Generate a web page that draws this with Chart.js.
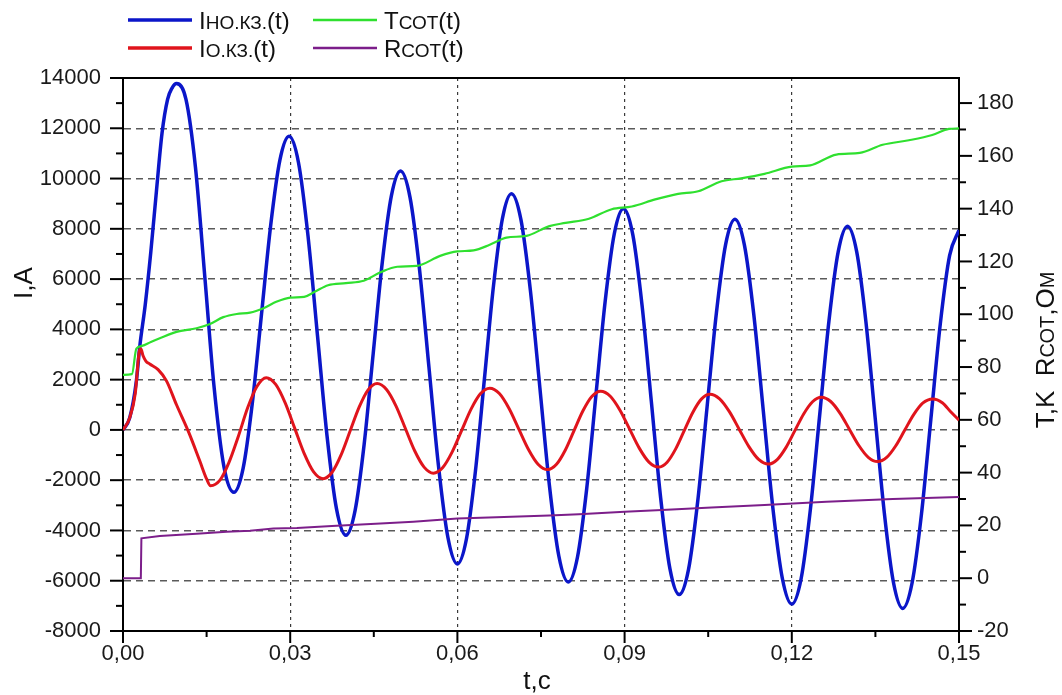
<!DOCTYPE html>
<html>
<head>
<meta charset="utf-8">
<title>Токи КЗ и параметры СОТ</title>
<script src="https://cdn.jsdelivr.net/npm/chart.js@4.4.1/dist/chart.umd.min.js"></script>
<style>
  html, body { margin: 0; padding: 0; background: #fff; }
  #wrap { width: 1062px; height: 695px; }
</style>
</head>
<body>
<div id="wrap"><canvas id="chart" width="1062" height="695"></canvas></div>
<script>
// --- data ---

// unlimited short-circuit current, A
const tNo = [0, 0.0012, 0.0024, 0.0030, 0.0040, 0.0050, 0.0060, 0.0070, 0.0080, 0.0088, 0.0096,
  0.0113, 0.0130, 0.01475, 0.0163, 0.0181, 0.0199,
  0.02155, 0.0232, 0.02485, 0.0265, 0.02815, 0.0298,
  0.0315, 0.0332, 0.0349, 0.0366, 0.0383, 0.0400,
  0.04163, 0.04327, 0.0449, 0.04653, 0.04817, 0.0498,
  0.0515, 0.0532, 0.0549, 0.0566, 0.0583, 0.0600,
  0.06162, 0.06323, 0.06485, 0.06647, 0.06808, 0.0697,
  0.0714, 0.0731, 0.0748, 0.0765, 0.0782, 0.0799,
  0.08155, 0.0832, 0.08485, 0.0865, 0.08815, 0.0898,
  0.09147, 0.09313, 0.0948, 0.09647, 0.09813, 0.0998,
  0.10147, 0.10313, 0.1048, 0.10647, 0.10813, 0.1098,
  0.1115, 0.1132, 0.1149, 0.1166, 0.1183, 0.1200,
  0.12167, 0.12333, 0.1250, 0.12667, 0.12833, 0.1300,
  0.13165, 0.1333, 0.13495, 0.1366, 0.13825, 0.1399,
  0.14158, 0.14327, 0.14495, 0.14663, 0.14832, 0.1500];
const iNo = [0, 480, 1950, 3300, 5000, 7100, 9500, 11800, 13150, 13600, 13780,
  13150, 10450, 5900, 1800, -1450, -2480,
  -1530, 1060, 4600, 8140, 10730, 11680,
  10620, 7710, 3745, -220, -3130, -4190,
  -3220, -570, 3055, 6680, 9330, 10300,
  9250, 6390, 2485, -1420, -4280, -5330,
  -4340, -1650, 2035, 5720, 8410, 9400,
  8365, 5540, 1675, -2190, -5015, -6050,
  -5055, -2340, 1375, 5090, 7805, 8800,
  7770, 4960, 1125, -2710, -5520, -6550,
  -5550, -2820, 915, 4650, 7380, 8380,
  7350, 4550, 725, -3100, -5900, -6930,
  -5920, -3170, 585, 4340, 7090, 8100,
  7080, 4300, 500, -3300, -6080, -7100,
  -6090, -3340, 425, 4190, 6940, 7950];

// limited short-circuit current, A
const tO = [0, 0.0012, 0.0022, 0.0029, 0.0032, 0.0036, 0.0041, 0.0048, 0.0063, 0.0078,
  0.0096, 0.0118, 0.0138, 0.0150, 0.0157,
  0.0174, 0.0190, 0.0207, 0.0224, 0.0240, 0.0257,
  0.0274, 0.0291, 0.0308, 0.0325, 0.0342, 0.0359,
  0.03752, 0.03913, 0.04075, 0.04237, 0.04398, 0.0456,
  0.04728, 0.04897, 0.05065, 0.05233, 0.05402, 0.0557,
  0.05738, 0.05907, 0.06075, 0.06243, 0.06412, 0.0658,
  0.06753, 0.06927, 0.0710, 0.07273, 0.07447, 0.0762,
  0.07778, 0.07937, 0.08095, 0.08253, 0.08412, 0.0857,
  0.08743, 0.08917, 0.0909, 0.09263, 0.09437, 0.0961,
  0.09763, 0.09917, 0.1007, 0.10223, 0.10377, 0.1053,
  0.10705, 0.1088, 0.11055, 0.1123, 0.11405, 0.1158,
  0.11738, 0.11897, 0.12055, 0.12213, 0.12372, 0.1253,
  0.12698, 0.12867, 0.13035, 0.13203, 0.13372, 0.1354,
  0.13702, 0.13863, 0.14025, 0.14187, 0.14348, 0.1453,
  0.1470, 0.1486, 0.1500];
const iO = [0, 480, 1450, 3100, 3230, 2950, 2740, 2620, 2400, 1950,
  1000, -100, -1250, -1950, -2220,
  -2000, -1300, -250, 900, 1720, 2080,
  1810, 1075, 70, -935, -1670, -1940,
  -1685, -995, -45, 905, 1595, 1850,
  1610, 960, 65, -830, -1480, -1720,
  -1495, -875, -30, 815, 1435, 1660,
  1445, 850, 40, -770, -1365, -1580,
  -1370, -800, -20, 760, 1330, 1540,
  1340, 785, 30, -725, -1280, -1480,
  -1285, -755, -30, 695, 1225, 1420,
  1235, 725, 30, -665, -1175, -1360,
  -1180, -695, -30, 635, 1120, 1300,
  1130, 660, 20, -620, -1090, -1260,
  -1095, -640, -15, 610, 1065, 1230,
  1080, 700, 390];

// limiter temperature, K
const tTemp = [0, 0.0016, 0.0024, 0.0034, 0.0050, 0.0066, 0.0096, 0.0132, 0.0156, 0.0180,
  0.0204, 0.0228, 0.0252, 0.0276, 0.0300, 0.0325, 0.0344, 0.0368, 0.0400, 0.0432,
  0.0462, 0.0492, 0.0527, 0.0569, 0.0600, 0.0629, 0.0658, 0.0688, 0.0724, 0.0765,
  0.0794, 0.0836, 0.0877, 0.0913, 0.0955, 0.0996, 0.1032, 0.1074, 0.1109, 0.1151,
  0.1200, 0.1233, 0.1280, 0.1322, 0.1363, 0.1410, 0.1452, 0.1482, 0.1500];
const tempSot = [77, 77.3, 87, 88, 89.5, 90.9, 93.3, 94.7, 96.3, 98.9,
  100.1, 100.6, 102.3, 104.8, 106.3, 106.6, 108.5, 111, 111.8, 112.7,
  115.9, 118.0, 118.3, 122.1, 123.8, 124.2, 126.3, 129.0, 129.7, 133.4,
  134.6, 136.2, 139.8, 140.8, 143.5, 145.6, 146.6, 150.4, 151.5, 153.2,
  155.9, 156.4, 160.5, 161.1, 164.2, 165.9, 167.9, 170.2, 170.4];

// limiter resistance, Ohm
const tRes = [0, 0.0032, 0.0033, 0.0066, 0.0132, 0.0186, 0.0228, 0.0270, 0.0312, 0.0375,
  0.0462, 0.0521, 0.0600, 0.0670, 0.0765, 0.0818, 0.0900, 0.0967, 0.1056, 0.1151,
  0.1262, 0.1381, 0.1500];
const rSot = [0, 0, 15.1, 16.0, 16.8, 17.6, 18.0, 18.8, 19.0, 19.8,
  20.7, 21.4, 22.6, 23.1, 23.8, 24.2, 25.2, 25.8, 26.8, 27.7,
  29.0, 30.0, 30.8];

// axis ticks
const xTicks = [0, 0.03, 0.06, 0.09, 0.12, 0.15];
const iTicksStep = 2000;
const rightTicks = [-20, 0, 20, 40, 60, 80, 100, 120, 140, 160, 180];

const FONT = "'Liberation Sans', Arial, sans-serif";

function zip(xs, ys) {
  return xs.map((x, i) => ({ x: x, y: ys[i] }));
}

// text with mixed sizes (small caps subscripts like НО.КЗ.)
function richWidth(ctx, parts) {
  let w = 0;
  parts.forEach(p => {
    ctx.font = p[1] + 'px ' + FONT;
    w += ctx.measureText(p[0]).width;
  });
  return w;
}
function drawRich(ctx, parts, x, y) {
  let cx = x;
  parts.forEach(p => {
    ctx.font = p[1] + 'px ' + FONT;
    ctx.fillText(p[0], cx, y);
    cx += ctx.measureText(p[0]).width;
  });
}

const legendItems = [
  { color: '#0b16c9', width: 3.5, x: 128, y: 20, parts: [['I', 24], ['НО.КЗ.', 19], ['(t)', 24]] },
  { color: '#2fe02f', width: 2.5, x: 313, y: 20, parts: [['T', 24], ['СОТ', 19], ['(t)', 24]] },
  { color: '#e0141c', width: 3.5, x: 128, y: 48, parts: [['I', 24], ['О.КЗ.', 19], ['(t)', 24]] },
  { color: '#7c1e8a', width: 2.5, x: 313, y: 48, parts: [['R', 24], ['СОТ', 19], ['(t)', 24]] }
];

const decorations = {
  id: 'decorations',
  afterDraw(chart) {
    const { ctx, chartArea: a, scales } = chart;
    ctx.save();
    ctx.strokeStyle = '#000';
    ctx.lineWidth = 2;
    const line = (x1, y1, x2, y2) => {
      ctx.beginPath();
      ctx.moveTo(x1, y1);
      ctx.lineTo(x2, y2);
      ctx.stroke();
    };
    // top frame
    line(a.left - 1, a.top, a.right + 1, a.top);
    // major / minor ticks, outside
    for (let v = -8000; v <= 14000; v += 1000) {
      const y = scales.y.getPixelForValue(v);
      line(a.left - (v % 2000 === 0 ? 13 : 7), y, a.left, y);
    }
    for (let v = -20; v <= 180; v += 10) {
      const y = scales.y2.getPixelForValue(v);
      line(a.right, y, a.right + (v % 20 === 0 ? 13 : 7), y);
    }
    for (let i = 0; i <= 10; i++) {
      const x = scales.x.getPixelForValue(i * 0.015);
      line(x, a.bottom, x, a.bottom + (i % 2 === 0 ? 12 : 6));
    }

    // axis titles
    ctx.fillStyle = '#111';
    ctx.textBaseline = 'alphabetic';
    const bottomTitle = [['t,с', 26]];
    drawRich(ctx, bottomTitle, 537 - richWidth(ctx, bottomTitle) / 2, 689);

    const leftTitle = [['I,A', 26]];
    ctx.save();
    ctx.translate(32, 283);
    ctx.rotate(-Math.PI / 2);
    drawRich(ctx, leftTitle, -richWidth(ctx, leftTitle) / 2, 0);
    ctx.restore();

    const rightTitle = [['T,K  R', 26], ['СОТ', 20], [',О', 26], ['М', 20]];
    ctx.save();
    ctx.translate(1054, 350);
    ctx.rotate(-Math.PI / 2);
    drawRich(ctx, rightTitle, -richWidth(ctx, rightTitle) / 2, 0);
    ctx.restore();

    // legend
    ctx.fillStyle = '#111';
    legendItems.forEach(it => {
      ctx.strokeStyle = it.color;
      ctx.lineWidth = it.width;
      line(it.x, it.y, it.x + 64, it.y);
      drawRich(ctx, it.parts, it.x + 71, it.y + 9);
    });
    ctx.restore();
  }
};

const tickFont = { family: FONT, size: 22 };

new Chart(document.getElementById('chart'), {
  type: 'line',
  data: {
    datasets: [
      { label: 'Iно.кз.(t)', data: zip(tNo, iNo), yAxisID: 'y', borderColor: '#0b16c9', borderWidth: 3.5, order: 3, cubicInterpolationMode: 'monotone' },
      { label: 'Iо.кз.(t)', data: zip(tO, iO), yAxisID: 'y', borderColor: '#e0141c', borderWidth: 3, order: 2, cubicInterpolationMode: 'monotone' },
      { label: 'Tсот(t)', data: zip(tTemp, tempSot), yAxisID: 'y2', borderColor: '#2fe02f', borderWidth: 2.2, order: 1, cubicInterpolationMode: 'monotone' },
      { label: 'Rсот(t)', data: zip(tRes, rSot), yAxisID: 'y2', borderColor: '#7c1e8a', borderWidth: 2, order: 0, tension: 0 }
    ]
  },
  options: {
    responsive: false,
    animation: false,
    layout: { padding: { top: 78, left: 0, right: 0, bottom: 0 } },
    elements: {
      point: { radius: 0 },
      line: { fill: false }
    },
    plugins: { legend: { display: false }, tooltip: { enabled: false } },
    scales: {
      x: {
        type: 'linear',
        min: 0,
        max: 0.15,
        afterBuildTicks: s => { s.ticks = xTicks.map(v => ({ value: v })); },
        afterFit: s => { s.height = 64; },
        ticks: {
          font: tickFont, color: '#1a1a1a', padding: 10, maxRotation: 0, autoSkip: false,
          callback: v => v.toFixed(2).replace('.', ',')
        },
        grid: {
          drawTicks: false,
          lineWidth: 1.2,
          color: c => (c.tick && (c.tick.value === 0 || c.tick.value === 0.15)) ? 'rgba(0,0,0,0)' : '#3a3a3a'
        },
        border: { display: true, color: '#000', width: 2, dash: [3, 4] }
      },
      y: {
        position: 'left',
        min: -8000,
        max: 14000,
        afterFit: s => { s.width = 123; },
        ticks: { stepSize: iTicksStep, font: tickFont, color: '#1a1a1a', padding: 22, callback: v => String(v) },
        grid: {
          drawTicks: false,
          lineWidth: 1.5,
          color: c => (c.tick && (c.tick.value === -8000 || c.tick.value === 14000)) ? 'rgba(0,0,0,0)' : '#5a5a5a'
        },
        border: { display: true, color: '#000', width: 2, dash: [7, 5] }
      },
      y2: {
        position: 'right',
        min: -20,
        max: 189.5,
        afterBuildTicks: s => { s.ticks = rightTicks.map(v => ({ value: v })); },
        afterFit: s => { s.width = 103; },
        ticks: { font: tickFont, color: '#1a1a1a', padding: 18, callback: v => String(v) },
        grid: { drawOnChartArea: false, drawTicks: false },
        border: { display: true, color: '#000', width: 2 }
      }
    }
  },
  plugins: [decorations]
});
</script>
</body>
</html>
